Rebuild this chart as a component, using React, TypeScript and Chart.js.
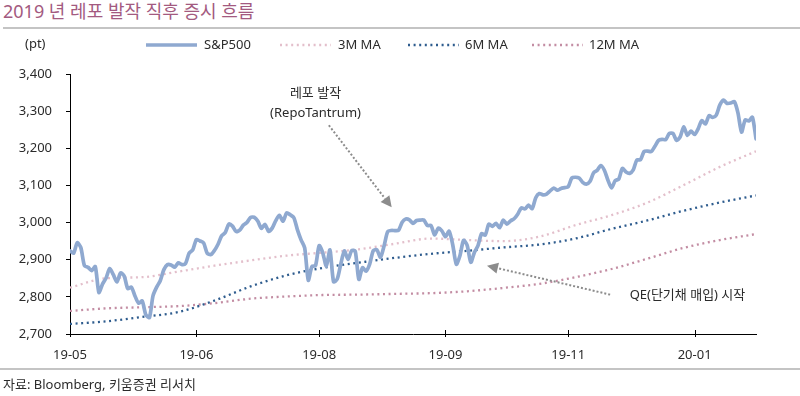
import React, { useEffect, useRef } from 'react';
import { Chart, registerables } from 'chart.js';

Chart.register(...registerables);

// ---- Data (daily closes, 2019-05-01 .. 2020-01-31) ----
const sp500 = [
  // May 2019
  2923.73, 2917.52, 2945.64, 2932.47, 2884.05, 2879.42, 2870.72, 2881.40, 2811.87, 2834.41, 2850.96,
  2876.32, 2859.53, 2840.23, 2864.36, 2856.27, 2822.24, 2826.06, 2802.39, 2783.02, 2788.86, 2752.06,
  // Jun
  2744.45, 2803.27, 2826.15, 2843.49, 2873.34, 2886.73, 2885.72, 2879.84, 2891.64, 2886.98,
  2889.67, 2917.75, 2926.46, 2954.18, 2950.46, 2945.35, 2917.38, 2913.78, 2924.92, 2941.76,
  // Jul
  2964.33, 2973.01, 2995.82, 2990.41, 2975.95, 2979.63, 2993.07, 2999.91, 3013.77, 3014.30, 3004.04,
  2984.42, 2995.11, 2976.61, 2985.03, 3005.47, 3019.56, 3003.67, 3025.86, 3020.97, 3013.18, 2980.38,
  // Aug
  2953.56, 2932.05, 2844.74, 2881.77, 2883.98, 2938.09, 2918.65, 2882.70, 2926.32, 2840.60, 2847.60,
  2888.68, 2923.65, 2900.51, 2924.43, 2922.95, 2847.11, 2878.38, 2869.16, 2887.94, 2924.58, 2926.46,
  // Sep
  2906.27, 2937.78, 2976.00, 2978.71, 2978.43, 2979.39, 3000.93, 3009.57, 3007.39, 2997.96,
  3005.70, 3006.73, 3006.79, 2992.07, 2991.78, 2966.60, 2984.87, 2977.62, 2961.79, 2976.74,
  // Oct
  2940.25, 2887.61, 2910.63, 2952.01, 2938.79, 2893.06, 2919.40, 2938.13, 2970.27, 2966.15, 2995.68, 2989.69,
  2997.95, 2986.20, 3006.72, 2995.99, 3004.52, 3010.29, 3022.55, 3039.42, 3036.89, 3046.77, 3037.56,
  // Nov
  3066.91, 3078.27, 3074.62, 3076.78, 3085.18, 3093.08, 3087.01, 3091.84, 3094.04, 3096.63,
  3120.46, 3122.03, 3120.18, 3108.46, 3103.54, 3110.29, 3133.64, 3140.52, 3153.63, 3140.98,
  // Dec
  3113.87, 3093.20, 3112.76, 3117.43, 3145.91, 3135.96, 3132.52, 3141.63, 3168.57, 3168.80, 3191.45,
  3192.52, 3191.14, 3205.37, 3221.22, 3224.01, 3223.38, 3239.91, 3240.02, 3221.29, 3230.78,
  // Jan 2020
  3257.85, 3234.85, 3246.28, 3237.18, 3253.05, 3274.70, 3265.35, 3288.13, 3283.15, 3289.29, 3316.81,
  3329.62, 3320.79, 3321.75, 3325.54, 3295.47, 3243.63, 3276.24, 3273.40, 3283.66, 3225.52,
];

// Moving averages at these trading-day indexes
const maIndex = [0, 10, 20, 30, 40, 50, 60, 70, 80, 90, 100, 110, 120, 130, 140, 150, 160, 170, 180, 190];
const ma3m = [2825, 2850, 2853, 2868, 2884, 2898, 2911, 2919, 2928, 2943, 2957, 2953, 2950, 2962, 2993, 3020, 3054, 3101, 3150, 3192];
const ma6m = [2727, 2734, 2746, 2759, 2790, 2828, 2858, 2878, 2892, 2905, 2916, 2924, 2933, 2941, 2957, 2983, 3006, 3032, 3054, 3073];
const ma12m = [2762, 2769, 2772, 2775, 2783, 2795, 2801, 2805, 2806, 2808, 2810, 2815, 2824, 2835, 2853, 2875, 2903, 2932, 2953, 2969];

const seriesNames = ['S&P500', '3M MA', '6M MA', '12M MA'];
const tickIndex = [0, 35, 69, 104, 138, 173];
const tickLabels = ['19-05', '19-06', '19-08', '19-09', '19-11', '20-01'];
const yMin = 2700;
const yMax = 3400;
const yStep = 100;

const titleText = '2019 년 레포 발작 직후 증시 흐름';
const unitText = '(pt)';
const sourceText = '자료: Bloomberg, 키움증권 리서치';

// annotations anchored in data space: [index, value]
const note1Lines = ['레포 발작', '(RepoTantrum)'];
const note1Anchor = [68, 3349];
const note1Tail = [71.7, 3262];
const note1Tip = [89.1, 3041];
const note2Text = 'QE(단기채 매입) 시작';
const note2Anchor = [155, 2805];
const note2Tail = [149.6, 2806];
const note2Tip = [115.5, 2884];

const FONT = "'Noto Sans', 'Noto Sans CJK KR', sans-serif";
const COLORS = ['#8FA9D0', '#E3BFCB', '#2E5C8E', '#C38DA3'];
const TEXT = '#2b2b2b';

function drawArrow(ctx: CanvasRenderingContext2D, x1: number, y1: number, x2: number, y2: number) {
  const ang = Math.atan2(y2 - y1, x2 - x1);
  const head = 11;
  const bx = x2 - Math.cos(ang) * head;
  const by = y2 - Math.sin(ang) * head;
  ctx.save();
  ctx.strokeStyle = '#8c8c8c';
  ctx.fillStyle = '#8c8c8c';
  ctx.lineWidth = 2;
  ctx.setLineDash([2, 2]);
  ctx.beginPath();
  ctx.moveTo(x1, y1);
  ctx.lineTo(bx, by);
  ctx.stroke();
  ctx.setLineDash([]);
  const w = 5.5;
  ctx.beginPath();
  ctx.moveTo(x2, y2);
  ctx.lineTo(bx + Math.sin(ang) * w, by - Math.cos(ang) * w);
  ctx.lineTo(bx - Math.sin(ang) * w, by + Math.cos(ang) * w);
  ctx.closePath();
  ctx.fill();
  ctx.restore();
}

const overlayPlugin = {
  id: 'overlay',
  afterDraw(chart: any) {
    const { ctx, chartArea, scales } = chart;
    const xs = scales.x;
    const ys = scales.y;
    ctx.save();
    // x tick marks crossing the axis
    ctx.strokeStyle = '#000';
    ctx.lineWidth = 1;
    tickIndex.forEach((v) => {
      const px = Math.round(xs.getPixelForValue(v)) + 0.5;
      ctx.beginPath();
      ctx.moveTo(px, chartArea.bottom - 4);
      ctx.lineTo(px, chartArea.bottom + 3);
      ctx.stroke();
    });

    // legend
    const lineStart = [146, 280, 408, 532];
    const textX = [204, 338, 465, 589];
    const ly = 45;
    chart.data.datasets.forEach((ds: any, i: number) => {
      ctx.save();
      ctx.strokeStyle = ds.borderColor;
      ctx.lineWidth = ds.borderWidth;
      ctx.setLineDash(ds.borderDash || []);
      ctx.beginPath();
      ctx.moveTo(lineStart[i], ly);
      ctx.lineTo(lineStart[i] + 51, ly);
      ctx.stroke();
      ctx.restore();
      ctx.fillStyle = TEXT;
      ctx.font = `13px ${FONT}`;
      ctx.textBaseline = 'middle';
      ctx.textAlign = 'left';
      ctx.fillText(ds.label, textX[i], ly);
    });

    // unit
    ctx.fillStyle = TEXT;
    ctx.font = `13px ${FONT}`;
    ctx.textBaseline = 'middle';
    ctx.textAlign = 'left';
    ctx.fillText(unitText, 25, 44);

    // annotation 1
    ctx.textAlign = 'center';
    const a1x = xs.getPixelForValue(note1Anchor[0]);
    const a1y = ys.getPixelForValue(note1Anchor[1]);
    ctx.fillText(note1Lines[0], a1x, a1y);
    ctx.fillText(note1Lines[1], a1x, a1y + 20);
    drawArrow(ctx,
      xs.getPixelForValue(note1Tail[0]), ys.getPixelForValue(note1Tail[1]),
      xs.getPixelForValue(note1Tip[0]), ys.getPixelForValue(note1Tip[1]));

    // annotation 2
    ctx.textAlign = 'left';
    ctx.fillText(note2Text, xs.getPixelForValue(note2Anchor[0]), ys.getPixelForValue(note2Anchor[1]));
    drawArrow(ctx,
      xs.getPixelForValue(note2Tail[0]), ys.getPixelForValue(note2Tail[1]),
      xs.getPixelForValue(note2Tip[0]), ys.getPixelForValue(note2Tip[1]));
    ctx.restore();
  },
};

export default function App() {
  const canvasRef = useRef<HTMLCanvasElement | null>(null);

  useEffect(() => {
    if (!canvasRef.current) return;
    const spPoints = sp500.map((v, i) => ({ x: i, y: v }));
    const toPts = (arr: number[]) => arr.map((v, i) => ({ x: maIndex[i], y: v }));
    const chart = new Chart(canvasRef.current, {
      type: 'line',
      data: {
        datasets: [
          {
            label: seriesNames[0],
            data: spPoints,
            borderColor: COLORS[0],
            borderWidth: 3.7,
            pointRadius: 0,
            tension: 0.25,
            borderJoinStyle: 'round',
            borderCapStyle: 'round',
          },
          {
            label: seriesNames[1],
            data: toPts(ma3m),
            borderColor: COLORS[1],
            borderWidth: 2.3,
            borderDash: [2, 3.6],
            pointRadius: 0,
            tension: 0.4,
            cubicInterpolationMode: 'monotone',
          },
          {
            label: seriesNames[2],
            data: toPts(ma6m),
            borderColor: COLORS[2],
            borderWidth: 2.3,
            borderDash: [2, 3.6],
            pointRadius: 0,
            tension: 0.4,
            cubicInterpolationMode: 'monotone',
          },
          {
            label: seriesNames[3],
            data: toPts(ma12m),
            borderColor: COLORS[3],
            borderWidth: 2.3,
            borderDash: [2, 3.6],
            pointRadius: 0,
            tension: 0.4,
            cubicInterpolationMode: 'monotone',
          },
        ],
      } as any,
      options: {
        animation: false,
        responsive: false,
        maintainAspectRatio: false,
        layout: { padding: { left: 0, top: 74, right: 44, bottom: 0 } },
        plugins: {
          legend: { display: false },
          title: { display: false },
          tooltip: { enabled: false },
        },
        scales: {
          x: {
            type: 'linear',
            min: 0,
            max: sp500.length - 1,
            afterBuildTicks: (scale: any) => {
              scale.ticks = tickIndex.map((v) => ({ value: v }));
            },
            afterFit: (scale: any) => {
              scale.height = 62;
            },
            grid: { display: false },
            border: { display: true, color: '#000', width: 1 },
            ticks: {
              autoSkip: false,
              maxRotation: 0,
              padding: 5,
              color: TEXT,
              font: { family: FONT, size: 13 },
              callback: (value: any) => {
                const k = tickIndex.indexOf(Number(value));
                return k >= 0 ? tickLabels[k] : null;
              },
            },
          },
          y: {
            min: yMin,
            max: yMax,
            afterFit: (scale: any) => {
              scale.width = 70;
            },
            grid: { drawOnChartArea: false, drawTicks: true, tickLength: 4, color: '#000' },
            border: { display: true, color: '#000', width: 1 },
            ticks: {
              stepSize: yStep,
              padding: 14,
              color: TEXT,
              font: { family: FONT, size: 13 },
              callback: (value: any) => Number(value).toLocaleString('en-US'),
            },
          },
        },
      } as any,
      plugins: [overlayPlugin],
    });
    return () => chart.destroy();
  }, []);

  return (
    <div style={{ position: 'absolute', left: 0, top: 0, width: 800, height: 396, background: '#fff', fontFamily: FONT }}>
      <div style={{ position: 'absolute', left: 3, top: 0, fontSize: 18, lineHeight: '23px', color: '#A35A80', whiteSpace: 'nowrap' }}>
        {titleText}
      </div>
      <div style={{ position: 'absolute', left: 3, top: 27, width: 797, height: 2, background: '#c4c4c4' }} />
      <canvas ref={canvasRef} width={800} height={396} style={{ position: 'absolute', left: 0, top: 0, width: 800, height: 396 }} />
      <div style={{ position: 'absolute', left: 0, top: 368, width: 800, height: 1.5, background: '#c4c4c4' }} />
      <div style={{ position: 'absolute', left: 3, top: 375, fontSize: 13, lineHeight: '18px', color: TEXT, whiteSpace: 'nowrap' }}>
        {sourceText}
      </div>
    </div>
  );
}
